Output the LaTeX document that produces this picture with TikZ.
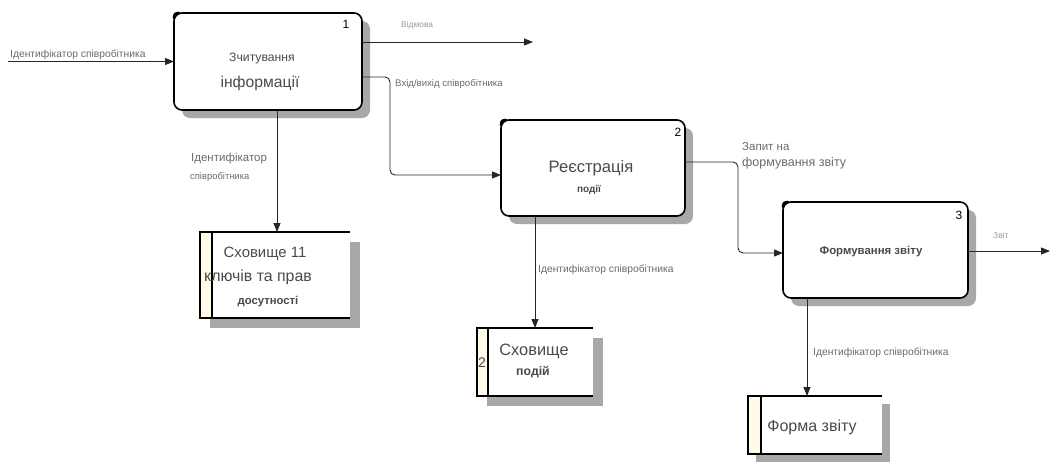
\documentclass[tikz,border=0pt]{standalone}
\usepackage{fontspec}
\setmainfont{Liberation Sans}
\usetikzlibrary{arrows.meta,calc,shadows}

\definecolor{shadowgray}{HTML}{A8A8A8}
\definecolor{stripcream}{HTML}{FFFBE8}
\definecolor{txtdark}{HTML}{4A4A4A}
\definecolor{txtmid}{HTML}{6A6A6A}
\definecolor{txtlight}{HTML}{9A9A9A}

\newcommand{\fsz}[1]{\fontsize{#1}{#1}\selectfont}

\begin{document}
\begin{tikzpicture}[x=1pt,y=-1pt,
  proc/.style={draw=black, line width=1.6pt, rounded corners=8pt, fill=white,
    inner sep=0pt, outer sep=0pt,
    drop shadow={shadow xshift=8pt, shadow yshift=-8pt, fill=shadowgray, opacity=1}},
  store/.style={fill=white, inner sep=0pt, outer sep=0pt},
  storeline/.style={draw=black, line width=1.6pt},
  flow/.style={draw=black!85, line width=0.9pt, rounded corners=5pt,
    -{Triangle[length=9pt,width=7pt]}},
  lbl/.style={inner sep=0pt, anchor=west, text=txtmid},
  ttl/.style={inner sep=0pt, text=txtdark},
  num/.style={inner sep=0pt, text=black, font=\fsz{12}},
]
\useasboundingbox (0,0) rectangle (1057,472);

% ---------- processes ----------
\node[proc, minimum width=188pt, minimum height=97pt] (p1) at (268,61.5) {};
\node[proc, minimum width=184pt, minimum height=96pt] (p2) at (593,168) {};
\node[proc, minimum width=185pt, minimum height=96pt] (p3) at (875.5,250) {};

% darker top-left corner marks
\foreach \p in {p1,p2,p3}{
  \draw[line width=2.6pt, line cap=round]
    ([yshift=-5pt]\p.north west) .. controls ([shift={(0.6pt,-0.6pt)}]\p.north west) .. ([xshift=5pt]\p.north west);
}

% process numbers
\node[num] (n1) at (346,24) {1};
\node[num] (n2) at (678,132) {2};
\node[num] (n3) at (959,215) {3};

% process titles
\node[ttl, font=\fsz{12.2}] (t1a) at (262,59) {Зчитування};
\node[ttl, font=\fsz{15.7}] (t1b) at (260,83) {інформації};
\node[ttl, font=\fsz{16.6}] (t2a) at (591,168) {Реєстрація};
\node[ttl, font=\bfseries\fsz{10}] (t2b) at (589,190) {події};
\node[ttl, font=\bfseries\fsz{11.4}] (t3a) at (871,252) {Формування звіту};

% ---------- data stores ----------
\tikzset{storeshadow/.style={drop shadow={shadow xshift=#1, shadow yshift=-#1, fill=shadowgray, opacity=1}}}
\node[store, storeshadow=10pt, minimum width=150pt, minimum height=86pt] (s1) at (275,275) {};
\node[store, storeshadow=10pt, minimum width=116pt, minimum height=68pt] (s2) at (535,362) {};
\node[store, storeshadow=8pt, minimum width=134pt, minimum height=58pt] (s3) at (815,425) {};

\foreach \s/\w in {s1/12pt, s2/11pt, s3/13pt}{
  \fill[stripcream] (\s.north west) rectangle ([xshift=\w]\s.south west);
  \draw[storeline] (\s.north east) -- (\s.north west) -- (\s.south west) -- (\s.south east);
  \draw[storeline] ([xshift=\w]\s.north west) -- ([xshift=\w]\s.south west);
}

% store texts
\node[ttl, font=\fsz{14.9}] (st1a) at (265,254) {Сховище 11};
\node[ttl, font=\fsz{15.9}] (st1b) at (258,277) {ключів та прав};
\node[ttl, font=\bfseries\fsz{11.3}] (st1c) at (268,302) {досутності};
\node[ttl, font=\fsz{14}] (st2n) at (482,363) {2};
\node[ttl, font=\fsz{16.4}] (st2a) at (534,351) {Сховище};
\node[ttl, font=\bfseries\fsz{12.3}] (st2b) at (533,372) {подій};
\node[ttl, font=\fsz{16}] (st3a) at (812,427) {Форма звіту};

% ---------- flows ----------
\coordinate (in1) at (8,61.5);
\coordinate (out1) at (533,42);
\coordinate (out3) at (1050,251);

\draw[flow] (in1) -- (p1.west);
\draw[flow] (p1.east |- out1) -- (out1);
\draw[flow] ([yshift=-15.5pt]p1.east) -| ([xshift=-111pt,yshift=-7pt]p2.west) -- ([yshift=-7pt]p2.west);
\draw[flow] ([xshift=9pt]p1.south) -- ([xshift=9pt]p1.south |- s1.north);
\draw[flow] ([yshift=6pt]p2.east) -| ([xshift=-45pt,yshift=-3pt]p3.west) -- ([yshift=-3pt]p3.west);
\draw[flow] ([xshift=-58pt]p2.south) -- ([xshift=-58pt]p2.south |- s2.north);
\draw[flow] (p3.east |- out3) -- (out3);
\draw[flow] ([xshift=-68.5pt]p3.south) -- ([xshift=-68.5pt]p3.south |- s3.north);

% flow labels
\node[lbl, font=\fsz{10.3}] (l1) at (10,55) {Ідентифікатор співробітника};
\node[lbl, font=\fsz{8.4}, text=txtlight] (l2) at (401,25) {Відмова};
\node[lbl, font=\fsz{9.6}] (l3) at (395,84) {Вхід/вихід співробітника};
\node[lbl, font=\fsz{11.5}] (l4a) at (191,159) {Ідентифікатор};
\node[lbl, font=\fsz{9.4}] (l4b) at (190,177) {співробітника};
\node[lbl, font=\fsz{10.3}] (l5) at (538,270) {Ідентифікатор співробітника};
\node[lbl, font=\fsz{11.5}] (l6a) at (742,147) {Запит на};
\node[lbl, font=\fsz{12.5}] (l6b) at (742,163) {формування звіту};
\node[lbl, font=\fsz{8.5}, text=txtlight] (l7) at (993,235) {Звіт};
\node[lbl, font=\fsz{10.3}] (l8) at (813,353) {Ідентифікатор співробітника};

\end{tikzpicture}
\end{document}
